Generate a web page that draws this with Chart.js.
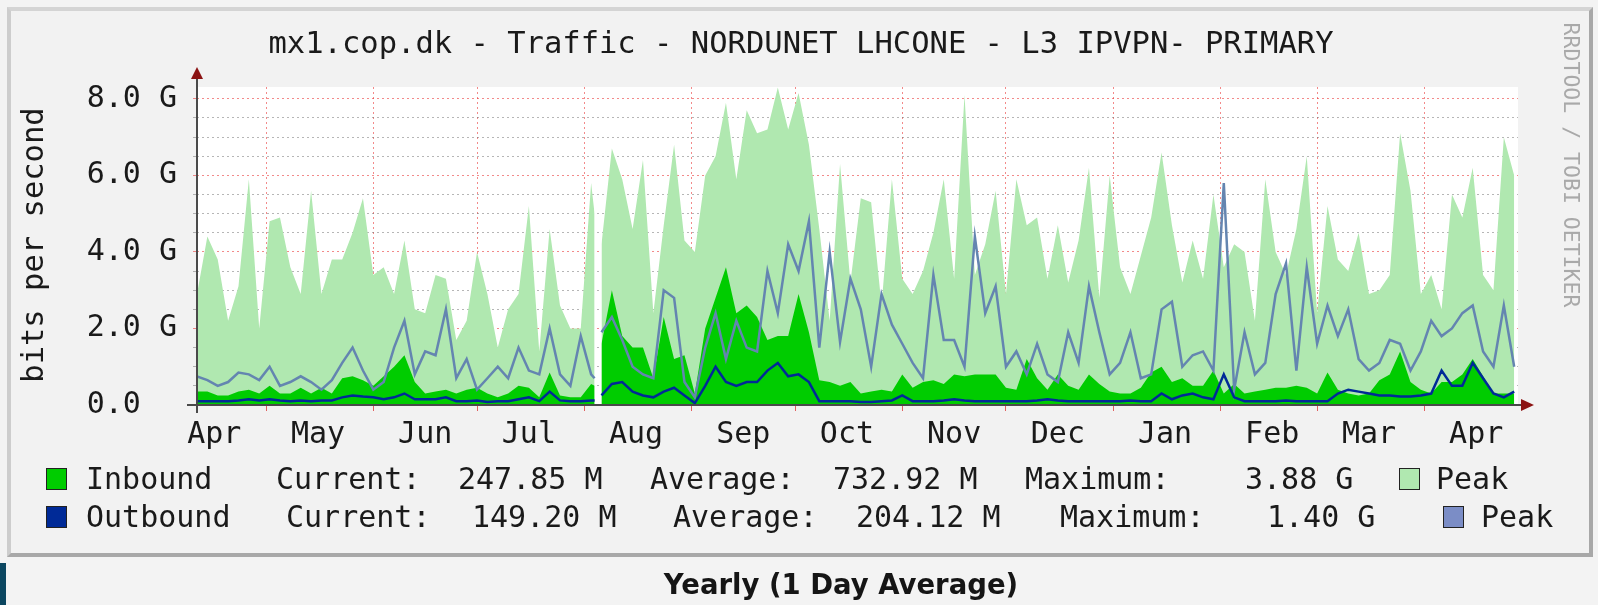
<!DOCTYPE html>
<html>
<head>
<meta charset="utf-8">
<script src="https://cdn.jsdelivr.net/npm/chart.js@4.4.1/dist/chart.umd.min.js"></script>
<style>
html, body { margin: 0; padding: 0; background: #f3f3f3; }
#wrap { position: relative; width: 1598px; height: 605px; overflow: hidden; font-family: "DejaVu Sans Mono", monospace; color: #1a1a1a; }
#frame { position: absolute; left: 7px; top: 7px; width: 1578px; height: 542px; border-style: solid; border-width: 4px; border-color: #d4d4d4 #a8a8a8 #a8a8a8 #cdcdcd; background: #f2f2f2; }
#chart { position: absolute; left: 0; top: 0; }
.t { position: absolute; white-space: pre; font-size: 30px; line-height: 34px; }
.sw { position: absolute; width: 19px; height: 20px; border: 1.5px solid #222; }
#title { left: 0; width: 1602px; top: 26px; text-align: center; font-size: 30.5px; }
#ytitle { left: -117px; top: 228px; width: 300px; text-align: center; transform: rotate(-90deg); font-size: 30.5px; }
#mark { left: 1411px; top: 152px; width: 320px; height: 26px; line-height: 26px; font-size: 21.5px; color: #a9a9a9; text-align: center; transform: rotate(90deg); }
#foot { position: absolute; left: 591px; width: 500px; top: 566px; text-align: center; font-family: "DejaVu Sans", sans-serif; font-weight: 700; font-size: 27.5px; line-height: 36px; color: #151515; }
#stripe { position: absolute; left: 0; top: 563px; width: 6px; height: 42px; background: #0b4660; }
</style>
</head>
<body>
<div id="wrap">
  <div id="frame"></div>
  <canvas id="chart" width="1598" height="605"></canvas>
  <div class="t" id="title">mx1.cop.dk - Traffic - NORDUNET LHCONE - L3 IPVPN- PRIMARY</div>
  <div class="t" id="ytitle">bits per second</div>
  <div class="t" id="mark">RRDTOOL / TOBI OETIKER</div>

  <div class="sw" style="left:46px;top:468px;background:#00cc00"></div>
  <div class="t" style="left:86px;top:462px">Inbound</div>
  <div class="t" style="left:276px;top:462px">Current:</div>
  <div class="t" style="left:458px;top:462px">247.85 M</div>
  <div class="t" style="left:650px;top:462px">Average:</div>
  <div class="t" style="left:833px;top:462px">732.92 M</div>
  <div class="t" style="left:1025px;top:462px">Maximum:</div>
  <div class="t" style="left:1245px;top:462px">3.88 G</div>
  <div class="sw" style="left:1399px;top:468px;background:#b0e8b0"></div>
  <div class="t" style="left:1436px;top:462px">Peak</div>

  <div class="sw" style="left:46px;top:506px;background:#002a97"></div>
  <div class="t" style="left:86px;top:500px">Outbound</div>
  <div class="t" style="left:286px;top:500px">Current:</div>
  <div class="t" style="left:472px;top:500px">149.20 M</div>
  <div class="t" style="left:673px;top:500px">Average:</div>
  <div class="t" style="left:856px;top:500px">204.12 M</div>
  <div class="t" style="left:1060px;top:500px">Maximum:</div>
  <div class="t" style="left:1267px;top:500px">1.40 G</div>
  <div class="sw" style="left:1443px;top:506px;background:#7b8dc6"></div>
  <div class="t" style="left:1481px;top:500px">Peak</div>

  <div id="foot">Yearly (1 Day Average)</div>
  <div id="stripe"></div>
</div>
<script>
// day 0 = left edge of the graph (11 Apr), one sample every 3 days, gap on day 116
const days = [
  0, 3, 6, 9, 12, 15, 18, 21, 24, 27, 30, 33, 36, 39, 42, 45, 48, 51, 54, 57,
  60, 63, 66, 69, 72, 75, 78, 81, 84, 87, 90, 93, 96, 99, 102, 105, 108, 111, 114,
  115, 116, 117,
  120, 123, 126, 129, 132, 135, 138, 141, 144, 147, 150, 153, 156, 159, 162, 165, 168, 171, 174, 177,
  180, 183, 186, 189, 192, 195, 198, 201, 204, 207, 210, 213, 216, 219, 222, 225, 228, 231, 234, 237,
  240, 243, 246, 249, 252, 255, 258, 261, 264, 267, 270, 273, 276, 279, 282, 285, 288, 291, 294, 297,
  300, 303, 306, 309, 312, 315, 318, 321, 324, 327, 330, 333, 336, 339, 342, 345, 348, 351, 354, 357,
  360, 363, 366, 369, 372, 375, 378, 381
];

// values in Gbit/s
const inboundPeak = [
  2.9, 4.4, 3.8, 2.2, 3.1, 5.9, 2.0, 4.8, 4.9, 3.6, 2.9, 5.6, 2.9, 3.8, 3.8, 4.5, 5.4, 3.4, 3.6, 2.9,
  4.3, 2.5, 2.4, 3.4, 3.3, 1.7, 2.2, 4.0, 2.9, 1.5, 2.5, 2.9, 5.2, 1.4, 4.6, 2.6, 2.0, 2.0, 5.8,
  5.0, null, 4.2,
  6.7, 5.9, 4.6, 6.4, 2.4, 4.7, 6.8, 4.3, 4.0, 6.0, 6.5, 7.9, 5.9, 7.7, 7.1, 7.2, 8.3, 7.2, 8.15, 6.8,
  4.6, 2.2, 6.3, 3.2, 5.4, 5.3, 2.6, 5.9, 3.3, 2.9, 3.5, 4.5, 5.9, 3.3, 8.1, 3.4, 4.2, 5.6, 2.9, 5.9,
  4.7, 4.9, 3.3, 4.7, 3.2, 4.3, 6.2, 2.8, 6.0, 3.6, 2.9, 3.9, 4.9, 6.6, 4.7, 3.2, 4.3, 3.3, 5.5, 3.6,
  4.2, 4.0, 2.2, 5.9, 4.0, 3.4, 4.6, 6.5, 2.4, 5.2, 3.8, 3.5, 4.5, 2.9, 3.0, 3.4, 7.1, 5.6, 2.9, 3.4,
  2.5, 5.5, 4.9, 6.2, 3.4, 3.0, 7.0, 6.0
];
const inbound = [
  0.35, 0.35, 0.25, 0.25, 0.35, 0.4, 0.3, 0.5, 0.3, 0.3, 0.45, 0.3, 0.45, 0.3, 0.7, 0.75, 0.65, 0.5, 0.75, 1.0,
  1.3, 0.6, 0.3, 0.35, 0.4, 0.3, 0.4, 0.45, 0.3, 0.2, 0.3, 0.5, 0.45, 0.2, 0.85, 0.25, 0.2, 0.2, 0.55,
  0.5, null, 1.6,
  3.0, 1.8, 1.5, 1.5, 0.7, 2.3, 1.2, 1.3, 0.3, 2.0, 2.8, 3.6, 2.4, 2.6, 2.3, 1.7, 1.8, 1.8, 2.9, 1.9,
  0.65, 0.6, 0.5, 0.6, 0.3, 0.35, 0.4, 0.35, 0.8, 0.45, 0.6, 0.65, 0.55, 0.8, 0.75, 0.8, 0.8, 0.8, 0.45, 0.4,
  1.2, 0.7, 0.4, 0.8, 0.5, 0.4, 0.8, 0.55, 0.35, 0.3, 0.3, 0.45, 0.85, 1.0, 0.6, 0.7, 0.5, 0.5, 0.9, 0.3,
  0.55, 0.3, 0.35, 0.4, 0.45, 0.45, 0.5, 0.45, 0.3, 0.85, 0.4, 0.3, 0.25, 0.3, 0.65, 0.8, 1.4, 0.6, 0.4, 0.3,
  0.6, 0.6, 0.8, 1.2, 0.75, 0.3, 0.3, 0.3
];
const outboundPeak = [
  0.75, 0.65, 0.5, 0.6, 0.85, 0.8, 0.65, 1.0, 0.5, 0.6, 0.75, 0.6, 0.4, 0.65, 1.1, 1.5, 0.9, 0.4, 0.6, 1.5,
  2.2, 0.8, 1.4, 1.3, 2.5, 0.7, 1.2, 0.4, 0.7, 1.0, 0.7, 1.5, 0.9, 0.8, 2.0, 0.8, 0.5, 1.8, 0.8,
  0.7, null, 1.9,
  2.3, 1.7, 1.0, 0.8, 0.7, 3.0, 2.8, 0.6, 0.2, 1.5, 2.4, 1.2, 2.2, 1.5, 1.4, 3.5, 2.4, 4.2, 3.5, 4.8,
  1.5, 4.0, 1.65, 3.3, 2.5, 1.0, 2.9, 2.1, 1.6, 1.1, 0.7, 3.4, 1.7, 1.7, 1.0, 4.4, 2.4, 3.1, 1.0, 1.4,
  0.8, 1.6, 0.8, 0.6, 1.9, 1.1, 3.1, 1.9, 0.8, 1.1, 1.9, 0.7, 0.8, 2.5, 2.7, 1.0, 1.3, 1.4, 0.9, 5.8,
  0.4, 1.9, 0.8, 1.1, 2.9, 3.7, 0.9, 3.6, 1.6, 2.6, 1.8, 2.5, 1.2, 0.9, 1.1, 1.7, 1.6, 0.9, 1.4, 2.2,
  1.8, 2.0, 2.4, 2.6, 1.4, 1.0, 2.6, 1.0
];
const outbound = [
  0.1, 0.1, 0.1, 0.1, 0.12, 0.15, 0.12, 0.15, 0.12, 0.1, 0.12, 0.1, 0.12, 0.12, 0.2, 0.25, 0.22, 0.2, 0.15, 0.2,
  0.3, 0.15, 0.15, 0.15, 0.2, 0.1, 0.1, 0.12, 0.08, 0.1, 0.1, 0.15, 0.2, 0.1, 0.35, 0.12, 0.1, 0.1, 0.12,
  0.12, null, 0.25,
  0.55, 0.6, 0.35, 0.25, 0.2, 0.35, 0.45, 0.25, 0.05, 0.5, 1.0, 0.6, 0.5, 0.6, 0.6, 0.9, 1.1, 0.75, 0.8, 0.6,
  0.1, 0.1, 0.1, 0.1, 0.08, 0.08, 0.1, 0.12, 0.25, 0.1, 0.1, 0.1, 0.12, 0.15, 0.12, 0.1, 0.1, 0.1, 0.1, 0.1,
  0.1, 0.12, 0.15, 0.12, 0.1, 0.1, 0.1, 0.1, 0.1, 0.1, 0.12, 0.1, 0.1, 0.3, 0.15, 0.25, 0.3, 0.2, 0.15, 0.8,
  0.2, 0.1, 0.1, 0.1, 0.1, 0.12, 0.1, 0.1, 0.1, 0.1, 0.3, 0.4, 0.35, 0.3, 0.25, 0.25, 0.22, 0.22, 0.25, 0.3,
  0.9, 0.5, 0.5, 1.1, 0.7, 0.3, 0.2, 0.35
];

// month axis: first day of each month (in graph days) and its label
const monthNames = ['Apr', 'May', 'Jun', 'Jul', 'Aug', 'Sep', 'Oct', 'Nov', 'Dec', 'Jan', 'Feb', 'Mar', 'Apr'];
const monthStarts = [-10, 20, 51, 81, 112, 143, 173, 204, 234, 265, 296, 324, 355];

// value axis
const yGridValues = [0, 0.5, 1, 1.5, 2, 2.5, 3, 3.5, 4, 4.5, 5, 5.5, 6, 6.5, 7, 7.5, 8];
const yLabelValues = [0, 2, 4, 6, 8];
const yLabels = ['0.0  ', '2.0 G', '4.0 G', '6.0 G', '8.0 G'];

const X_MAX = 382.1;
const Y_MAX = 8.31;
const RED = 'rgba(235,60,60,0.6)';
const GREY = 'rgba(110,110,110,0.5)';
const FONT = { family: 'DejaVu Sans Mono', size: 30 };

const pts = vals => days.map((d, i) => ({ x: d, y: vals[i] }));
const mids = monthStarts.map(s => s + 15);
const starts = monthStarts.filter(s => s > 0 && s < X_MAX);
const xTicks = mids.concat(starts).sort((a, b) => a - b);

const rrdFrame = {
  id: 'rrdFrame',
  beforeDraw(chart) {
    const a = chart.chartArea, ctx = chart.ctx;
    ctx.save();
    ctx.fillStyle = '#ffffff';
    ctx.fillRect(a.left, a.top, a.right - a.left, a.bottom - a.top);
    ctx.restore();
  },
  afterDraw(chart) {
    const a = chart.chartArea, ctx = chart.ctx;
    ctx.save();
    ctx.strokeStyle = '#4a4a4a';
    ctx.lineWidth = 2;
    ctx.beginPath();
    ctx.moveTo(a.left, a.bottom + 8);
    ctx.lineTo(a.left, a.top - 10);
    ctx.moveTo(a.left - 10, a.bottom);
    ctx.lineTo(a.right + 5, a.bottom);
    ctx.stroke();
    ctx.fillStyle = '#8c1414';
    ctx.beginPath();
    ctx.moveTo(a.left - 6, a.top - 8);
    ctx.lineTo(a.left + 6, a.top - 8);
    ctx.lineTo(a.left, a.top - 20);
    ctx.closePath();
    ctx.fill();
    ctx.beginPath();
    ctx.moveTo(a.right + 3, a.bottom - 6);
    ctx.lineTo(a.right + 3, a.bottom + 6);
    ctx.lineTo(a.right + 16, a.bottom);
    ctx.closePath();
    ctx.fill();
    ctx.restore();
  }
};

new Chart(document.getElementById('chart'), {
  type: 'line',
  data: {
    datasets: [
      { label: 'Outbound', data: pts(outbound), borderColor: '#002a97', borderWidth: 2.5, fill: false },
      { label: 'Outbound Peak', data: pts(outboundPeak), borderColor: '#6485b0', borderWidth: 2.5, fill: false },
      { label: 'Inbound', data: pts(inbound), borderColor: '#00cc00', backgroundColor: '#00cc00', borderWidth: 0, fill: 'origin' },
      { label: 'Inbound Peak', data: pts(inboundPeak), borderColor: '#b0e8b0', backgroundColor: '#b0e8b0', borderWidth: 0, fill: 'origin' }
    ]
  },
  options: {
    responsive: false,
    animation: false,
    layout: { padding: { left: 0, right: 80, top: 87, bottom: 155 } },
    elements: { point: { radius: 0 }, line: { tension: 0 } },
    plugins: { legend: { display: false }, tooltip: { enabled: false } },
    scales: {
      x: {
        type: 'linear', min: 0, max: X_MAX, z: 1,
        afterBuildTicks: s => { s.ticks = xTicks.map(v => ({ value: v })); },
        afterFit: s => { s.height = 45; },
        border: { display: false, dash: [2, 3] },
        grid: {
          color: c => starts.includes(c.tick.value) ? RED : 'rgba(0,0,0,0)',
          tickColor: c => starts.includes(c.tick.value) ? 'rgba(220,60,60,0.8)' : 'rgba(0,0,0,0)',
          tickLength: 6, tickBorderDash: []
        },
        ticks: {
          autoSkip: false, maxRotation: 0, padding: 6, font: FONT, color: '#1a1a1a',
          callback: v => { const i = mids.indexOf(v); return i >= 0 ? monthNames[i] : ''; }
        }
      },
      y: {
        min: 0, max: Y_MAX, z: 1,
        afterBuildTicks: s => { s.ticks = yGridValues.map(v => ({ value: v })); },
        afterFit: s => { s.width = 197; },
        border: { display: false, dash: [2, 3] },
        grid: {
          color: c => yLabelValues.includes(c.tick.value) ? RED : GREY,
          tickLength: 4, tickBorderDash: []
        },
        ticks: {
          autoSkip: false, padding: 16, font: FONT, color: '#1a1a1a',
          callback: v => { const i = yLabelValues.indexOf(v); return i >= 0 ? yLabels[i] : ''; }
        }
      }
    }
  },
  plugins: [rrdFrame]
});
</script>
</body>
</html>
